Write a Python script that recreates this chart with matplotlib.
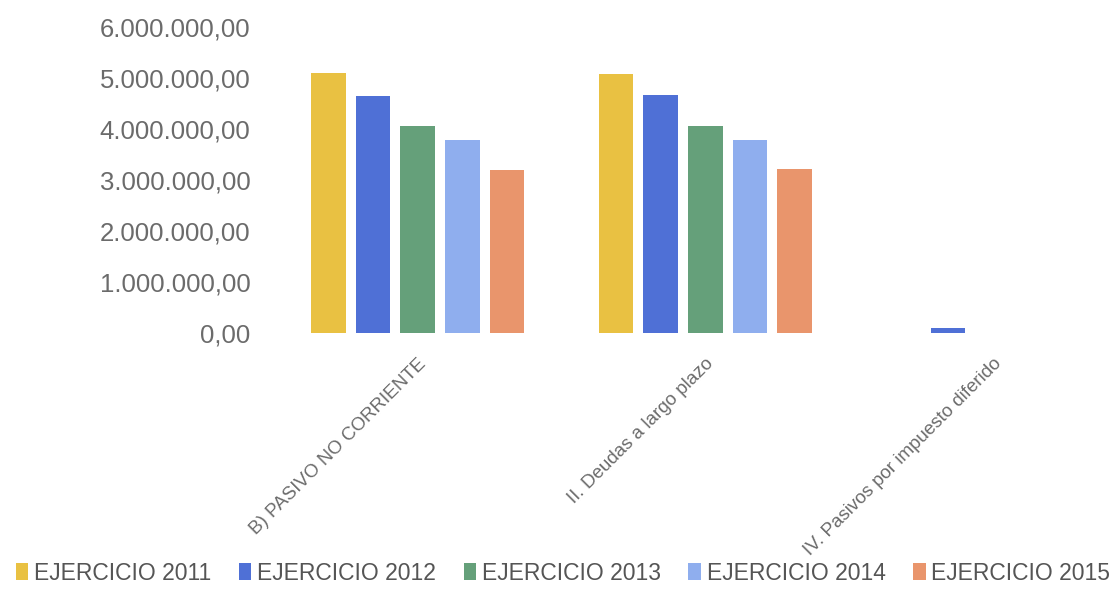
import matplotlib
matplotlib.use("Agg")
import matplotlib.pyplot as plt
import numpy as np
from matplotlib.ticker import FuncFormatter, MultipleLocator

categories = ["B) PASIVO NO CORRIENTE", "II. Deudas a largo plazo",
              "IV. Pasivos por impuesto diferido"]
series_names = ["EJERCICIO 2011", "EJERCICIO 2012", "EJERCICIO 2013",
                "EJERCICIO 2014", "EJERCICIO 2015"]
ej2011 = [5090000, 5080000, 0]
ej2012 = [4640000, 4660000, 90000]
ej2013 = [4060000, 4060000, 0]
ej2014 = [3780000, 3790000, 0]
ej2015 = [3200000, 3220000, 0]
series_values = [ej2011, ej2012, ej2013, ej2014, ej2015]
colors = ["#E9C142", "#4F70D6", "#65A07A", "#8FAEEE", "#E9956C"]

plt.rcParams['font.family'] = ['Liberation Sans', 'DejaVu Sans']

fig = plt.figure(figsize=(11.15, 5.91), dpi=100)
ax = fig.add_axes([0.2457, 0.4365, 0.7543, 0.5183])

x = np.arange(len(categories))
step = 0.155
width = 0.12
for i, (name, vals, c) in enumerate(zip(series_names, series_values, colors)):
    ax.bar(x + (i - 2) * step, vals, width=width, color=c, label=name)

ax.set_xlim(-0.5, 2.425)
ax.set_ylim(0, 6000000)
ax.yaxis.set_major_locator(MultipleLocator(1000000))

def es_fmt(v, pos):
    s = f"{v:,.2f}"
    return s.replace(",", "X").replace(".", ",").replace("X", ".")

ax.yaxis.set_major_formatter(FuncFormatter(es_fmt))
ax.tick_params(axis='y', length=0, labelsize=18.5, labelcolor="#6b6b6b", pad=17)
ax.tick_params(axis='x', length=0, labelsize=13.5, labelcolor="#6b6b6b", pad=16)
ax.set_xticks(x)
ax.set_xticklabels(categories, rotation=45, ha='right', rotation_mode='anchor')
for s in ax.spines.values():
    s.set_visible(False)

handles, labels = ax.get_legend_handles_labels()
fig.legend(handles, labels, loc='center', bbox_to_anchor=(0.505, 1 - 573 / 591),
           ncol=5, frameon=False, fontsize=16.5, handlelength=0.55,
           handleheight=0.7, handletextpad=0.25, columnspacing=1.2,
           labelcolor="#555555", borderpad=0)

fig.savefig("out.png", dpi=100, facecolor="white")
